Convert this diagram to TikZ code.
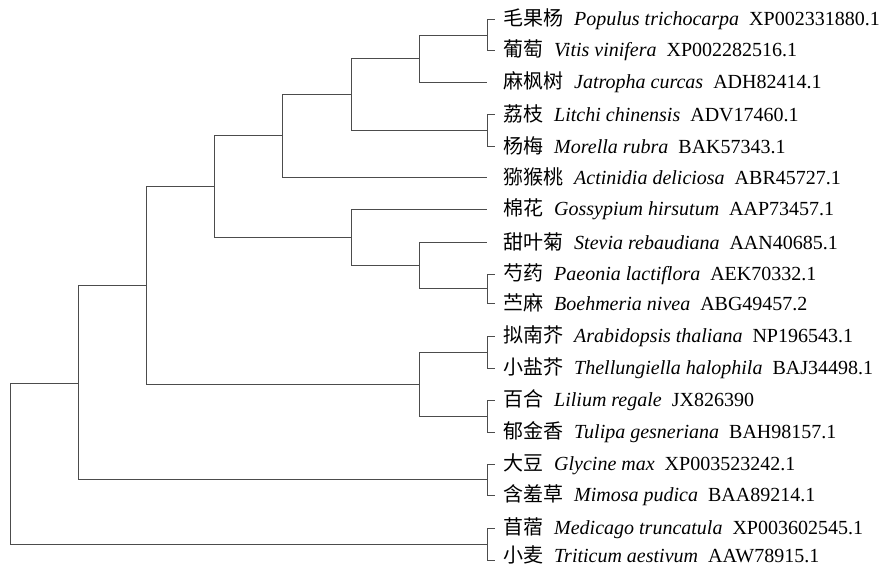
\documentclass[tikz,border=0pt]{standalone}
\usepackage{fontspec}
\setmainfont{Liberation Serif}
\newfontfamily\cjk{Noto Sans CJK SC}
\tikzset{
  branch/.style={draw=black!70, line width=1pt},
  leaflabel/.style={anchor=west, inner sep=0pt, font=\fontsize{20pt}{22pt}\selectfont, text=black}
}
\newcommand{\tlab}[3]{{\cjk #1}\hspace{11pt}\textit{#2}\hspace{10pt}#3}
\begin{document}
\begin{tikzpicture}[x=1pt,y=-1pt]
\useasboundingbox (0,0) rectangle (888,566);
% leaf labels
\node[leaflabel] (l1) at (503,19) {\tlab{毛果杨}{Populus trichocarpa}{XP002331880.1}};
\node[leaflabel] (l2) at (503,50) {\tlab{葡萄}{Vitis vinifera}{XP002282516.1}};
\node[leaflabel] (l3) at (503,82) {\tlab{麻枫树}{Jatropha curcas}{ADH82414.1}};
\node[leaflabel] (l4) at (503,114) {\tlab{荔枝}{Litchi chinensis}{ADV17460.1}};
\node[leaflabel] (l5) at (503,146) {\tlab{杨梅}{Morella rubra}{BAK57343.1}};
\node[leaflabel] (l6) at (503,177) {\tlab{猕猴桃}{Actinidia deliciosa}{ABR45727.1}};
\node[leaflabel] (l7) at (503,209) {\tlab{棉花}{Gossypium hirsutum}{AAP73457.1}};
\node[leaflabel] (l8) at (503,242) {\tlab{甜叶菊}{Stevia rebaudiana}{AAN40685.1}};
\node[leaflabel] (l9) at (503,274) {\tlab{芍药}{Paeonia lactiflora}{AEK70332.1}};
\node[leaflabel] (l10) at (503,303) {\tlab{苎麻}{Boehmeria nivea}{ABG49457.2}};
\node[leaflabel] (l11) at (503,336) {\tlab{拟南芥}{Arabidopsis thaliana}{NP196543.1}};
\node[leaflabel] (l12) at (503,368) {\tlab{小盐芥}{Thellungiella halophila}{BAJ34498.1}};
\node[leaflabel] (l13) at (503,400) {\tlab{百合}{Lilium regale}{JX826390}};
\node[leaflabel] (l14) at (503,432) {\tlab{郁金香}{Tulipa gesneriana}{BAH98157.1}};
\node[leaflabel] (l15) at (503,464) {\tlab{大豆}{Glycine max}{XP003523242.1}};
\node[leaflabel] (l16) at (503,495) {\tlab{含羞草}{Mimosa pudica}{BAA89214.1}};
\node[leaflabel] (l17) at (503,528) {\tlab{苜蓿}{Medicago truncatula}{XP003602545.1}};
\node[leaflabel] (l18) at (503,555) {\tlab{小麦}{Triticum aestivum}{AAW78915.1}};
% leaf ends
\coordinate (e1) at (495,19);
\coordinate (e2) at (495,50);
\coordinate (e3) at (487,82);
\coordinate (e4) at (495,114);
\coordinate (e5) at (495,146);
\coordinate (e6) at (487,177);
\coordinate (e7) at (487,209);
\coordinate (e8) at (487,242);
\coordinate (e9) at (495,274);
\coordinate (e10) at (495,303);
\coordinate (e11) at (495,336);
\coordinate (e12) at (495,368);
\coordinate (e13) at (495,400);
\coordinate (e14) at (495,432);
\coordinate (e15) at (495,464);
\coordinate (e16) at (495,495);
\coordinate (e17) at (495,528);
\coordinate (e18) at (495,560);
% internal nodes
\coordinate (A) at (487,35);
\coordinate (B) at (419,58.5);
\coordinate (C) at (487,130);
\coordinate (D) at (351,94);
\coordinate (E) at (282,135.5);
\coordinate (F) at (487,288.5);
\coordinate (G) at (419,265);
\coordinate (H) at (351,237.5);
\coordinate (I) at (214,186.5);
\coordinate (K) at (487,352);
\coordinate (L) at (487,416);
\coordinate (M) at (419,384);
\coordinate (N) at (146,285.5);
\coordinate (O) at (487,479.5);
\coordinate (P) at (78,383);
\coordinate (Q) at (487,544);
\coordinate (R) at (10,463.5);
% branches
\path[branch] (A) |- (e1) (A) |- (e2);
\path[branch] (B) |- (A) (B) |- (e3);
\path[branch] (C) |- (e4) (C) |- (e5);
\path[branch] (D) |- (B) (D) |- (C);
\path[branch] (E) |- (D) (E) |- (e6);
\path[branch] (F) |- (e9) (F) |- (e10);
\path[branch] (G) |- (e8) (G) |- (F);
\path[branch] (H) |- (e7) (H) |- (G);
\path[branch] (I) |- (E) (I) |- (H);
\path[branch] (K) |- (e11) (K) |- (e12);
\path[branch] (L) |- (e13) (L) |- (e14);
\path[branch] (M) |- (K) (M) |- (L);
\path[branch] (N) |- (I) (N) |- (M);
\path[branch] (O) |- (e15) (O) |- (e16);
\path[branch] (P) |- (N) (P) |- (O);
\path[branch] (Q) |- (e17) (Q) |- (e18);
\path[branch] (R) |- (P) (R) |- (Q);
\end{tikzpicture}
\end{document}
